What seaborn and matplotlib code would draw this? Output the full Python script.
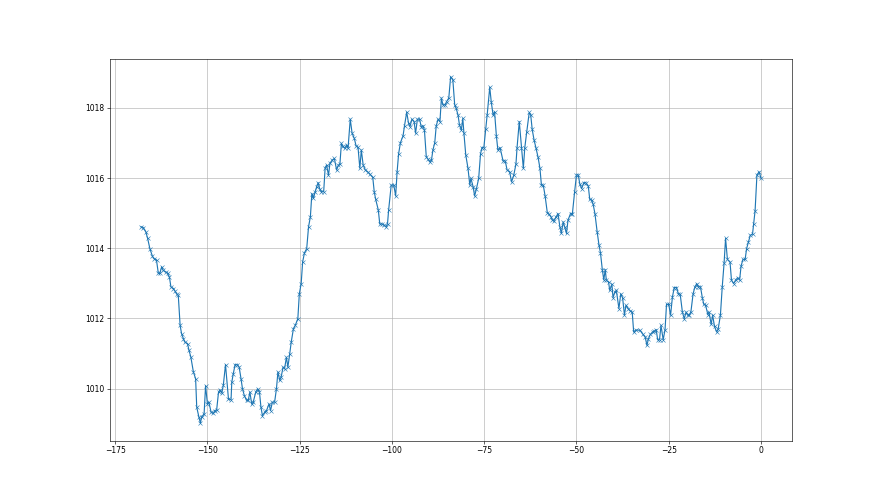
import pandas as pd
import matplotlib
matplotlib.use('Agg')
import matplotlib.pyplot as plt
import seaborn as sns

# hours relative to now
hours = [
    -168.0, -167.4, -166.7, -166.2, -165.6, -164.9, -164.4, -163.8, -163.3, -162.9,
    -162.4, -162.0, -161.3, -160.8, -160.3, -159.9, -159.2, -158.8, -158.3, -157.9,
    -157.4, -157.0, -156.5, -156.1, -155.4, -155.0, -154.5, -153.8, -153.2, -152.9,
    -152.3, -151.9, -151.6, -150.9, -150.5, -150.0, -149.6, -149.0, -148.4, -148.0,
    -147.5, -147.0, -146.6, -146.1, -145.7, -145.1, -144.3, -143.6, -143.4, -143.0,
    -142.5, -141.9, -141.4, -140.9, -140.5, -140.0, -139.4, -138.9, -138.5, -138.0,
    -137.6, -136.9, -136.4, -135.9, -135.5,
    -135.1, -134.5, -134.0, -133.3, -132.9, -132.4, -131.8, -131.3, -130.9, -130.4,
    -130.0, -129.5, -129.1, -128.6, -128.2, -127.7, -127.3,
    -126.7, -126.2, -125.5, -125.1, -124.6, -124.2, -123.7, -123.1, -122.6, -122.1,
    -121.7, -121.3, -120.8, -120.4, -120.0, -119.6, -119.1, -118.5, -118.1, -117.7,
    -117.2, -116.8, -116.2, -115.6, -115.0, -114.5, -114.1, -113.7, -113.4, -112.8,
    -112.3, -111.9, -111.3, -110.8, -110.2, -109.7, -109.2, -108.7, -108.3, -107.8,
    -107.2, -106.6, -106.0, -105.2, -104.8, -104.4, -103.7, -103.3, -102.7, -102.1,
    -101.6, -101.2,
    -100.9, -100.2, -99.5, -99.0, -98.6, -98.2, -97.7, -97.0, -96.6, -96.0,
    -95.5, -95.1, -94.6, -94.0, -93.6, -93.1, -92.5, -92.1, -91.6, -91.2,
    -90.7, -90.2, -89.8, -89.3, -88.9, -88.4, -88.0, -87.5, -87.0, -86.6,
    -86.2, -85.6, -85.2, -84.6, -84.1, -83.5, -83.0, -82.6, -82.1, -81.7,
    -81.2, -80.8, -80.5, -80.0, -79.4, -78.9, -78.6, -78.0, -77.6, -77.1,
    -76.5, -76.0, -75.6, -75.1, -74.6, -74.2, -73.5, -73.1, -72.6, -72.2,
    -71.7, -71.3, -70.7, -69.9, -69.3, -68.8, -68.1,
    -67.6, -67.0, -66.4, -66.1, -65.5, -64.9, -64.4, -64.0, -63.5, -62.8,
    -62.4, -62.0, -61.5, -61.0, -60.4, -59.9, -59.5, -59.0, -58.5, -57.9,
    -57.4, -56.9, -56.5, -56.1, -55.6, -55.0, -54.5, -54.1, -53.6, -53.2,
    -52.7, -52.3, -51.6, -51.1, -50.5, -50.0, -49.5, -49.1, -48.6, -48.0,
    -47.5, -46.8, -46.4, -45.9, -45.5, -45.0, -44.4, -43.9, -43.5, -43.0,
    -42.6, -42.2, -41.9, -41.3, -41.0, -40.4, -40.1, -39.6, -39.2, -38.5,
    -38.0, -37.5, -37.0, -36.6, -36.0, -35.4, -34.9, -34.5, -33.9,
    -32.8, -32.1, -31.4, -30.9, -30.5, -30.0, -29.4, -28.9, -28.4, -28.0,
    -27.5, -27.1, -26.5, -26.0, -25.6, -25.0, -24.5, -24.0, -23.5, -22.9,
    -22.4, -21.9, -21.3, -20.8, -20.3, -19.9, -19.4, -19.0, -18.4, -17.9,
    -17.4, -17.0, -16.4, -15.9, -15.5, -15.0, -14.4, -14.1, -13.5, -13.1,
    -12.6, -12.0, -11.6, -11.0, -10.5, -10.0, -9.6, -9.1, -8.4, -8.0,
    -7.4, -6.9, -6.3, -5.8, -5.4, -4.9, -4.3, -3.9, -3.4, -2.9,
    -2.3, -2.0, -1.6, -1.1, -0.5, 0.0,
]

# pressure in hPa
pressure = [
    1014.61, 1014.59, 1014.47, 1014.28, 1013.99, 1013.77, 1013.70, 1013.66, 1013.28, 1013.28,
    1013.47, 1013.37, 1013.32, 1013.28, 1013.18, 1012.90, 1012.85, 1012.78, 1012.69, 1012.66,
    1011.80, 1011.56, 1011.42, 1011.32, 1011.28, 1011.09, 1010.90, 1010.47, 1010.28, 1009.47,
    1009.18, 1009.01, 1009.18, 1009.28, 1010.08, 1009.56, 1009.61, 1009.32, 1009.29, 1009.37,
    1009.39, 1009.89, 1009.96, 1009.87, 1010.09, 1010.68, 1009.70, 1009.68, 1010.18, 1010.42,
    1010.68, 1010.68, 1010.61, 1010.28, 1009.99, 1009.80, 1009.66, 1009.68, 1009.90, 1009.56,
    1009.61, 1009.90, 1009.99, 1009.90, 1009.47,
    1009.23, 1009.32, 1009.37, 1009.56, 1009.37, 1009.61, 1009.61, 1009.99, 1010.47, 1010.23,
    1010.34, 1010.61, 1010.56, 1010.89, 1010.61, 1010.99, 1011.32,
    1011.70, 1011.80, 1011.99, 1012.70, 1012.99, 1013.61, 1013.87, 1013.99, 1014.61, 1014.90,
    1015.56, 1015.42, 1015.61, 1015.75, 1015.87, 1015.70, 1015.61, 1015.61, 1016.30, 1016.37,
    1016.08, 1016.42, 1016.51, 1016.56, 1016.23, 1016.37, 1016.40, 1016.99, 1016.91, 1016.85,
    1016.94, 1016.85, 1017.68, 1017.28, 1017.13, 1016.91, 1016.88, 1016.28, 1016.80, 1016.37,
    1016.23, 1016.18, 1016.11, 1016.02, 1015.61, 1015.39, 1015.09, 1014.69, 1014.69, 1014.66,
    1014.61, 1014.70,
    1015.09, 1015.80, 1015.80, 1015.49, 1016.18, 1016.69, 1017.01, 1017.20, 1017.49, 1017.88,
    1017.56, 1017.47, 1017.68, 1017.61, 1017.28, 1017.68, 1017.68, 1017.47, 1017.49, 1017.37,
    1016.61, 1016.53, 1016.47, 1016.51, 1016.80, 1017.01, 1017.49, 1017.68, 1017.61, 1018.28,
    1018.09, 1018.09, 1018.18, 1018.28, 1018.89, 1018.80, 1018.09, 1017.99, 1017.80, 1017.51,
    1017.37, 1017.70, 1017.28, 1016.66, 1016.28, 1015.80, 1015.99, 1015.75, 1015.49, 1015.70,
    1015.99, 1016.69, 1016.87, 1016.87, 1017.39, 1017.80, 1018.59, 1018.18, 1017.80, 1017.89,
    1017.20, 1016.80, 1016.87, 1016.49, 1016.49, 1016.23, 1016.18,
    1015.89, 1016.08, 1016.40, 1016.87, 1017.61, 1016.87, 1016.28, 1016.87, 1017.30, 1017.87,
    1017.80, 1017.39, 1017.09, 1016.87, 1016.59, 1016.28, 1015.80, 1015.80, 1015.49, 1015.01,
    1014.97, 1014.89, 1014.80, 1014.78, 1014.88, 1014.99, 1014.61, 1014.42, 1014.75, 1014.61,
    1014.42, 1014.80, 1014.99, 1014.99, 1015.61, 1016.09, 1016.09, 1015.83, 1015.70, 1015.87,
    1015.87, 1015.77, 1015.39, 1015.37, 1015.26, 1014.99, 1014.47, 1014.09, 1013.87, 1013.39,
    1013.10, 1013.39, 1013.08, 1013.04, 1012.80, 1012.97, 1012.59, 1012.75, 1012.80, 1012.28,
    1012.70, 1012.59, 1012.09, 1012.37, 1012.28, 1012.21, 1012.18, 1011.61, 1011.67,
    1011.66, 1011.56, 1011.47, 1011.23, 1011.42, 1011.54, 1011.61, 1011.64, 1011.68, 1011.39,
    1011.39, 1011.80, 1011.39, 1011.68, 1012.40, 1012.40, 1012.09, 1012.61, 1012.88, 1012.88,
    1012.70, 1012.69, 1012.18, 1011.99, 1012.18, 1012.09, 1012.11, 1012.18, 1012.70, 1012.90,
    1012.99, 1012.90, 1012.90, 1012.59, 1012.40, 1012.37, 1012.11, 1012.18, 1011.83, 1012.09,
    1011.77, 1011.61, 1011.70, 1012.09, 1012.90, 1013.58, 1014.28, 1013.68, 1013.61, 1013.09,
    1012.99, 1013.09, 1013.16, 1013.09, 1013.49, 1013.68, 1013.68, 1013.99, 1014.18, 1014.37,
    1014.40, 1014.69, 1015.07, 1016.09, 1016.18, 1016.00,
]

df = pd.DataFrame({'hours': hours, 'pressure': pressure})

fig, ax = plt.subplots(figsize=(16, 9), dpi=55)
sns.lineplot(data=df, x='hours', y='pressure', marker='x', estimator=None,
             color='tab:blue', markeredgecolor='tab:blue', ax=ax)
ax.set(xlabel='', ylabel='')
ax.grid(True)

plt.savefig('out.png')
